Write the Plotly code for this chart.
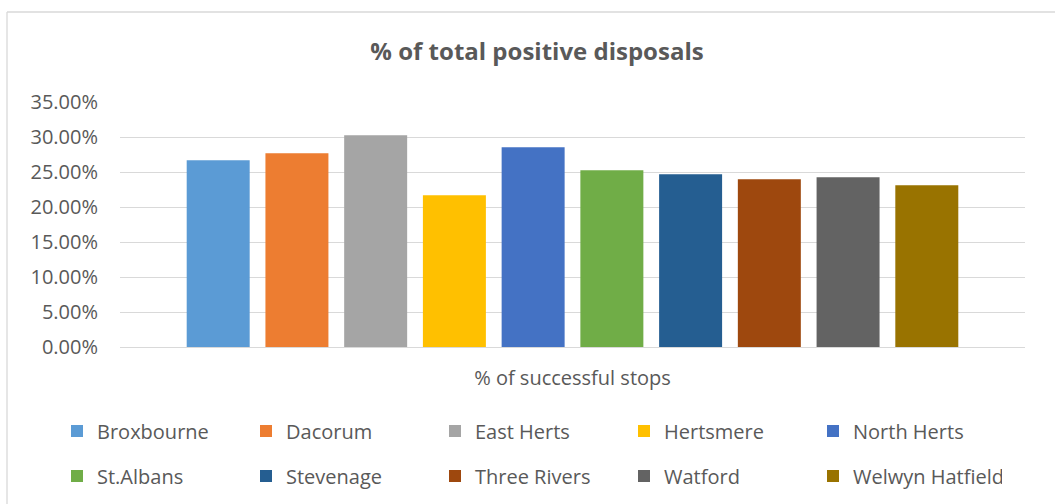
import plotly.graph_objects as go

category = ["% of successful stops"]
districts = ["Broxbourne", "Dacorum", "East Herts", "Hertsmere", "North Herts",
             "St.Albans", "Stevenage", "Three Rivers", "Watford", "Welwyn Hatfield"]
values = [0.2667, 0.2767, 0.3024, 0.2167, 0.2853,
          0.2524, 0.2467, 0.2395, 0.2424, 0.2310]
colors = ["#5B9BD5", "#ED7D31", "#A5A5A5", "#FFC000", "#4472C4",
          "#70AD47", "#255E91", "#9E480E", "#636363", "#997300"]

FONT = "Open Sans"
TXT = "#595959"
GRID = "#D9D9D9"

fig = go.Figure()
for i, (name, v, c) in enumerate(zip(districts, values, colors)):
    fig.add_trace(go.Bar(
        x=category, y=[v], name=name, marker=dict(color=c, line=dict(width=0)),
        legend="legend" if i < 5 else "legend2",
    ))

W, H = 1055, 504
L, R, T, B = 120, 30, 102, 157
PW, PH = W - L - R, H - T - B


def px_x(p):
    return (p - L) / PW


def px_y(p):
    return (H - B - p) / PH


legend_common = dict(
    orientation="h", xref="paper", yref="paper",
    xanchor="left", yanchor="middle",
    entrywidth=144, entrywidthmode="pixels", itemwidth=30,
    font=dict(family=FONT, size=20, color=TXT),
    bgcolor="rgba(0,0,0,0)", traceorder="normal",
)

fig.update_layout(
    width=W, height=H,
    paper_bgcolor="white", plot_bgcolor="white",
    margin=dict(l=L, r=R, t=T, b=B, pad=0, autoexpand=False),
    barmode="group", bargap=0.13, bargroupgap=0.2,
    title=dict(text="<b>% of total positive disposals</b>",
               font=dict(family=FONT, size=24, color=TXT),
               x=537 / W, xanchor="center", xref="container",
               y=1 - 52 / H, yanchor="middle", yref="container"),
    legend=dict(**legend_common, x=px_x(57), y=px_y(431)),
    legend2=dict(**legend_common, x=px_x(57), y=px_y(476)),
    font=dict(family=FONT, color=TXT),
    xaxis=dict(type="category", showgrid=False, zeroline=False, showline=False,
               ticks="", tickfont=dict(family=FONT, size=20, color=TXT),
               ticklabelstandoff=17, automargin=False),
    yaxis=dict(range=[0, 0.35], dtick=0.05, tick0=0, tickformat=".2%",
               showgrid=True, gridcolor=GRID, gridwidth=1.3,
               zeroline=True, zerolinecolor=GRID, zerolinewidth=1.3,
               showline=False, ticks="", ticklabelstandoff=21, automargin=False,
               tickfont=dict(family=FONT, size=20, color=TXT)),
    shapes=[
        dict(type="line", xref="paper", yref="paper",
             x0=px_x(7), x1=px_x(7), y0=px_y(600), y1=px_y(12),
             line=dict(color=GRID, width=1.3)),
        dict(type="line", xref="paper", yref="paper",
             x0=px_x(7), x1=px_x(1100), y0=px_y(12), y1=px_y(12),
             line=dict(color=GRID, width=1.3)),
    ],
)

fig.write_html("out.html")
